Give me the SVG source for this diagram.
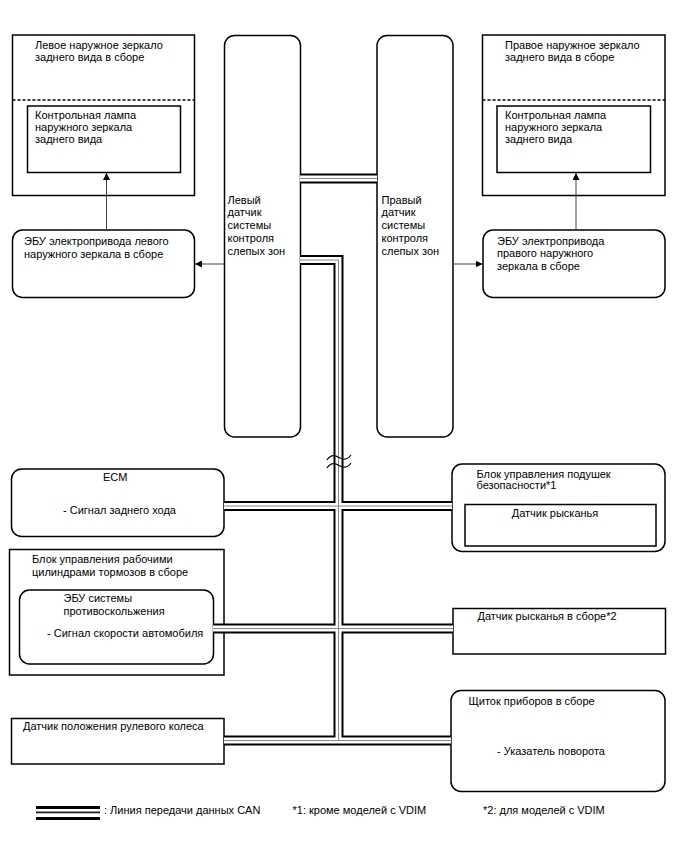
<svg xmlns="http://www.w3.org/2000/svg" xmlns:xlink="http://www.w3.org/1999/xlink" width="688" height="852" viewBox="0 0 688 852">
<style>
text{font-family:"Liberation Sans",Arial,sans-serif;font-size:11px;fill:#000}
.box{fill:#fff;stroke:#000;stroke-width:1.5}
.inner{fill:none;stroke:#000;stroke-width:1.5}
.dash{stroke:#000;stroke-width:1.3;stroke-dasharray:3,2;fill:none}
.bk{stroke:#000;stroke-width:10;fill:none}
.wh{stroke:#fff;stroke-width:6;fill:none}
.gr{stroke:#888;stroke-width:1;fill:none}
.arr{stroke:#444;stroke-width:1;fill:none;marker-end:url(#ah)}
.wave{stroke:#000;stroke-width:1.2;fill:none}
</style>
<defs>
<marker id="ah" viewBox="0 0 10 10" refX="10" refY="5" markerWidth="7" markerHeight="7" markerUnits="userSpaceOnUse" orient="auto">
<path d="M0,0 L10,5 L0,10 Z" fill="#000"/>
</marker>
<path id="b1" d="M300,178.5 H377"/>
<path id="b2" d="M300,260 H338.5 V740.5"/>
<path id="b3" d="M224,506 H452"/>
<path id="b4" d="M213,628.5 H453"/>
<path id="b5" d="M224,740.5 H451"/>
</defs>

<g id="left-mirror">
<rect class="box" x="12.5" y="35" width="182" height="160.5"/>
<line class="dash" x1="12.5" y1="100" x2="194.5" y2="100"/>
<text x="35" y="49">Левое наружное зеркало</text>
<text x="35" y="61">заднего вида в сборе</text>
</g>
<g id="left-lamp">
<rect class="inner" x="27.5" y="106" width="153" height="66.5"/>
<text x="35" y="119">Контрольная лампа</text>
<text x="35" y="131">наружного зеркала</text>
<text x="35" y="143">заднего вида</text>
</g>
<g id="left-ecu">
<rect class="box" x="12.5" y="230" width="182" height="67.5" rx="10"/>
<text x="24" y="245">ЭБУ электропривода левого</text>
<text x="24" y="257.5">наружного зеркала в сборе</text>
</g>
<g id="left-sensor">
<rect class="box" x="224.5" y="35.5" width="76" height="401.5" rx="10"/>
<text x="227.5" y="203.5">Левый</text>
<text x="227.5" y="216">датчик</text>
<text x="227.5" y="229">системы</text>
<text x="227.5" y="242">контроля</text>
<text x="227.5" y="255">слепых зон</text>
</g>
<g id="right-sensor">
<rect class="box" x="377" y="35.5" width="76" height="401.5" rx="10"/>
<text x="381.5" y="203.5">Правый</text>
<text x="381.5" y="216">датчик</text>
<text x="381.5" y="229">системы</text>
<text x="381.5" y="242">контроля</text>
<text x="381.5" y="255">слепых зон</text>
</g>
<g id="right-mirror">
<rect class="box" x="482.5" y="35" width="182.5" height="160.5"/>
<line class="dash" x1="482.5" y1="100" x2="665" y2="100"/>
<text x="505" y="49">Правое наружное зеркало</text>
<text x="505" y="61">заднего вида в сборе</text>
</g>
<g id="right-lamp">
<rect class="inner" x="497" y="106" width="153.5" height="66.5"/>
<text x="505" y="119">Контрольная лампа</text>
<text x="505" y="131">наружного зеркала</text>
<text x="505" y="143">заднего вида</text>
</g>
<g id="right-ecu">
<rect class="box" x="483" y="230" width="182" height="67.5" rx="10"/>
<text x="497" y="244.5">ЭБУ электропривода</text>
<text x="497" y="257">правого наружного</text>
<text x="497" y="269.5">зеркала в сборе</text>
</g>
<g id="ecm">
<rect class="box" x="11.5" y="469" width="212.5" height="67.5" rx="10"/>
<text x="103" y="481">ECM</text>
<text x="63" y="514">- Сигнал заднего хода</text>
</g>
<g id="brake-actuator">
<rect class="box" x="9.5" y="549.5" width="214.5" height="125.5"/>
<text x="32" y="563">Блок управления рабочими</text>
<text x="32" y="575.5">цилиндрами тормозов в сборе</text>
</g>
<g id="skid-ecu">
<rect class="inner" x="19.5" y="590" width="194" height="74" rx="10"/>
<text x="63.5" y="601.5">ЭБУ системы</text>
<text x="63.5" y="614.5">противоскольжения</text>
<text x="47" y="637">- Сигнал скорости автомобиля</text>
</g>
<g id="airbag">
<rect class="box" x="452" y="464" width="213" height="87.5" rx="10"/>
<text x="476.5" y="477.5">Блок управления подушек</text>
<text x="476.5" y="489">безопасности*1</text>
</g>
<g id="airbag-yaw">
<rect class="inner" x="465" y="504.5" width="191" height="41.5"/>
<text x="555" y="517" text-anchor="middle">Датчик рысканья</text>
</g>
<g id="yaw-sensor">
<rect class="box" x="453" y="608.5" width="212.5" height="45.5"/>
<text x="477.5" y="620">Датчик рысканья в сборе*2</text>
</g>
<g id="steering-sensor">
<rect class="box" x="11.5" y="718.5" width="212.5" height="45.5"/>
<text x="23" y="729.5">Датчик положения рулевого колеса</text>
</g>
<g id="combination-meter">
<rect class="box" x="451" y="690.5" width="214" height="101" rx="10"/>
<text x="468.5" y="705">Щиток приборов в сборе</text>
<text x="497" y="755">- Указатель поворота</text>
</g>

<g id="connectors">
<use xlink:href="#b1" class="bk"/><use xlink:href="#b2" class="bk"/><use xlink:href="#b3" class="bk"/><use xlink:href="#b4" class="bk"/><use xlink:href="#b5" class="bk"/>
<use xlink:href="#b1" class="wh"/><use xlink:href="#b2" class="wh"/><use xlink:href="#b3" class="wh"/><use xlink:href="#b4" class="wh"/><use xlink:href="#b5" class="wh"/>
<use xlink:href="#b1" class="gr"/><use xlink:href="#b2" class="gr"/><use xlink:href="#b3" class="gr"/><use xlink:href="#b4" class="gr"/><use xlink:href="#b5" class="gr"/>
<path class="wave" d="M327,460 C331,454 335,455 339,457.5 S347,460.5 351,455"/>
<path class="wave" d="M327,468 C331,462 335,463 339,465.5 S347,468.5 351,463"/>
<line class="arr" x1="106.5" y1="230" x2="106.5" y2="173"/>
<line class="arr" x1="576" y1="230" x2="576" y2="173"/>
<line class="arr" x1="224.5" y1="264" x2="195" y2="264"/>
<line class="arr" x1="453" y1="264" x2="482.5" y2="264"/>
</g>

<g id="legend">
<rect x="36" y="806" width="64" height="3" fill="#000"/>
<rect x="36" y="811.5" width="64" height="1.8" fill="#222"/>
<rect x="36" y="817" width="64" height="3" fill="#000"/>
<text x="104" y="813.5">: Линия передачи данных CAN</text>
<text x="292.5" y="813.5">*1: кроме моделей с VDIM</text>
<text x="483" y="813.5">*2: для моделей с VDIM</text>
</g>
</svg>
